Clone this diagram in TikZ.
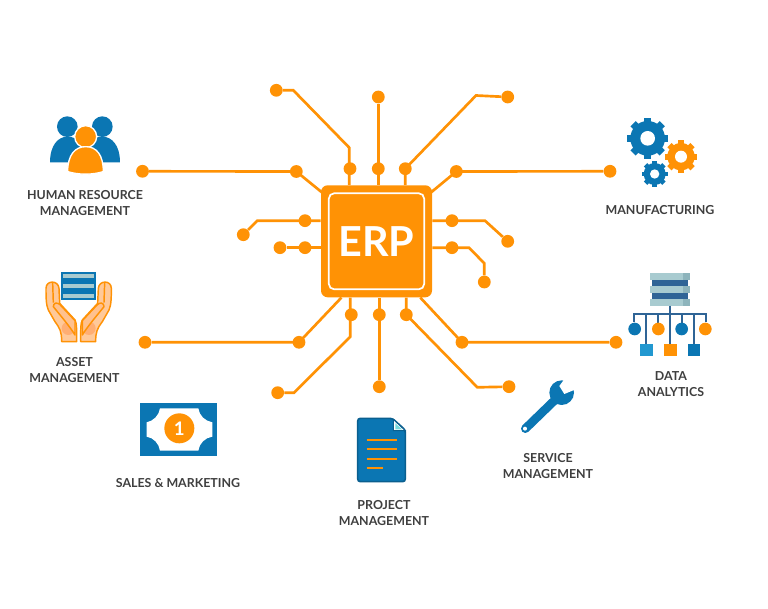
\documentclass[tikz,border=0pt]{standalone}
\usepackage{fontspec}
\setmainfont{Lato}
\usetikzlibrary{calc}
\definecolor{erporange}{HTML}{FF9205}
\definecolor{erpblue}{HTML}{0B76B3}
\definecolor{darkblue}{HTML}{0A5F8F}
\definecolor{steel}{HTML}{2F6496}
\definecolor{paleteal}{HTML}{A8CBD0}
\definecolor{midteal}{HTML}{8DB4BC}
\definecolor{handfill}{HTML}{FFC999}
\definecolor{palmfill}{HTML}{FFAE73}
\definecolor{labelgrey}{HTML}{3F3F3F}
\tikzset{
  dotnode/.style={circle,fill=erporange,inner sep=0pt,minimum size=9.6pt},
  wire/.style={draw=erporange,line width=2pt},
  lbl/.style={font=\fontsize{9.3}{12}\selectfont\bfseries,text=labelgrey,align=center,inner sep=0pt},
  stem/.style={draw=steel,line width=1.7pt}
}
\newcommand{\gearshape}[7]{% x y body reach width colour hole
  \fill[white] (#1,#2) circle[radius=#4+3];
  \foreach \a in {0,45,...,315}{\draw[#6,line width=#5] (#1,#2) -- ++(\a:#4);}
  \fill[#6] (#1,#2) circle[radius=#3];
  \fill[white] (#1,#2) circle[radius=#7];
}
\newcommand{\handshape}{%
  \filldraw[fill=handfill,draw=erporange,line width=1.1pt,line join=round]
    (78,85) .. controls (78,60) and (115,60) .. (117,85) -- (119,130)
    -- (165,180) .. controls (170,190) and (170,200) .. (170,245) -- (125,245)
    .. controls (125,215) and (120,205) .. (105,185) -- (85,150) .. controls (78,135) and (78,110) .. (78,85) -- cycle;
  \fill[palmfill] (145,205) circle[radius=20];
  \draw[erporange,line width=1.1pt] (98,68) -- (100,128);
  \filldraw[fill=handfill!70!palmfill,draw=erporange,line width=1.1pt,line join=round]
    (100,140) .. controls (100,128) and (112,126) .. (120,134) -- (165,182) -- (165,225) .. controls (150,200) and (120,165) .. (100,140) -- cycle;
}
\begin{document}
\begin{tikzpicture}[x=.75pt,y=-.75pt]
\useasboundingbox (0,0) rectangle (768,609);
\fill[white] (0,0) rectangle (768,609);

% chip
\node[fill=erporange,rounded corners=5pt,minimum width=83.25pt,minimum height=84pt,inner sep=0pt] (chip) at (376.5,241.3) {};
\node[draw=white,line width=1.3pt,rounded corners=4pt,minimum width=71.5pt,minimum height=72pt,inner sep=0pt,
  font=\fontsize{31}{31}\selectfont\bfseries,text=white] (erp) at (376.5,241.3) {ERP};

% dots
\node[dotnode] (ta) at (276.3,90.3) {};
\node[dotnode] (tam) at (350,168.7) {};
\node[dotnode] (tb) at (378.3,97) {};
\node[dotnode] (tbm) at (378.3,168.7) {};
\node[dotnode] (tc) at (507.7,97) {};
\node[dotnode] (tcm) at (405.3,168.7) {};
\node[dotnode] (hl) at (142.5,171.3) {};
\node[dotnode] (hlm) at (296.3,171.5) {};
\node[dotnode] (hr) at (610,171.3) {};
\node[dotnode] (hrm) at (456.3,171.5) {};
\node[dotnode] (la) at (243.3,234.7) {};
\node[dotnode] (lam) at (305,220.7) {};
\node[dotnode] (lb) at (280,247.7) {};
\node[dotnode] (lbm) at (305,247.7) {};
\node[dotnode] (ra) at (507.7,241.3) {};
\node[dotnode] (ram) at (452,220.7) {};
\node[dotnode] (rb) at (484.3,282) {};
\node[dotnode] (rbm) at (452,247.7) {};
\node[dotnode] (bl) at (145,342.3) {};
\node[dotnode] (blm) at (299,342.3) {};
\node[dotnode] (ba) at (277.7,392.7) {};
\node[dotnode] (bam) at (351.3,314.7) {};
\node[dotnode] (bb) at (379.3,386.7) {};
\node[dotnode] (bbm) at (379.3,314.7) {};
\node[dotnode] (bc) at (509,386.7) {};
\node[dotnode] (bcm) at (406.3,314.7) {};
\node[dotnode] (br) at (616,342.3) {};
\node[dotnode] (brm) at (462,342.3) {};

% bends
\coordinate (ta1) at (293.3,90.3);
\coordinate (ta2) at (349.3,147.7);
\coordinate (tc1) at (476,95.5);
\coordinate (la1) at (257.3,220.7);
\coordinate (ra1) at (485,220.7);
\coordinate (rb1) at (469,247.7);
\coordinate (rb2) at (484.3,263.3);
\coordinate (ba1) at (350.3,336.7);
\coordinate (ba2) at (294,392.7);
\coordinate (bc1) at (477.3,387.3);

% connectors
\draw[wire] (ta) -- (ta1) -- (ta2) -- (ta2 |- chip.north);
\draw[wire] (tb) -- (tb |- chip.north);
\draw[wire] (tc) -- (tc1) -- (tcm.center) -- (tcm.center |- chip.north);
\draw[wire] (hl) -- (hlm.center) -- ($(chip.north west)+(2,8)$);
\draw[wire] (hr) -- (hrm.center) -- ($(chip.north east)+(-2,8)$);
\draw[wire] (la) -- (la1) -- (lam.center -| chip.west);
\draw[wire] (lb) -- (lbm.center -| chip.west);
\draw[wire] (ra) -- (ra1) -- (ram.center -| chip.east);
\draw[wire] (rb) -- (rb2) -- (rb1) -- (rbm.center -| chip.east);
\draw[wire] (bl) -- (blm.center) -- ($(chip.south west)+(20.7,0)$);
\draw[wire] (ba) -- (ba2) -- (ba1) -- (ba1 |- chip.south);
\draw[wire] (bb) -- (bb |- chip.south);
\draw[wire] (bc) -- (bc1) -- (bcm.center) -- (bcm.center |- chip.south);
\draw[wire] (br) -- (brm.center) -- ($(chip.south east)+(-12,0)$);

% human resource icon
\begin{scope}[shift={(20,100)},scale=1/3]
  \fill[erpblue] (142,80) circle[radius=31];
  \fill[erpblue] (247,80) circle[radius=31];
  \fill[erpblue] (90,187) .. controls (90,135) and (115,110) .. (142,110) .. controls (175,110) and (195,135) .. (195,187) -- cycle;
  \fill[erpblue] (195,187) .. controls (195,135) and (215,110) .. (247,110) .. controls (275,110) and (300,135) .. (300,187) -- cycle;
  \filldraw[fill=erporange,draw=white,line width=1pt] (197,110) circle[radius=33];
  \filldraw[fill=erporange,draw=white,line width=1pt]
    (143,215) .. controls (143,165) and (165,140) .. (197,140) .. controls (230,140) and (250,165) .. (250,215) .. controls (215,225) and (178,225) .. (143,215) -- cycle;
\end{scope}

% asset icon
\begin{scope}[shift={(20,260)},scale=1/3]
  \handshape
  \begin{scope}[shift={(352,0)},xscale=-1]
    \handshape
  \end{scope}
  \fill[erpblue] (124,35) rectangle (228,120);
  \fill[paleteal] (130,41) rectangle (222,53);
  \fill[paleteal] (130,71) rectangle (222,84);
  \fill[paleteal] (130,102) rectangle (222,114);
\end{scope}

% sales icon
\begin{scope}[shift={(130,395)},scale=1/3]
  \fill[erpblue] (30,25) rectangle (262,183);
  \fill[white] (90,40) -- (205,40) .. controls (208,62) and (225,78) .. (247,82) -- (247,125)
    .. controls (225,128) and (208,145) .. (205,167) -- (90,167) .. controls (87,145) and (70,128) .. (50,125)
    -- (50,82) .. controls (70,78) and (87,62) .. (90,40) -- cycle;
  \node[circle,fill=erporange,minimum size=22.5pt,inner sep=0pt,text=white,font=\fontsize{14}{14}\selectfont\bfseries] (coin) at (148,100) {1};
\end{scope}

% project icon
\begin{scope}[shift={(340,410)},scale=1/3]
  \filldraw[fill=erpblue,draw=darkblue,line width=1.2pt,rounded corners=2pt]
    (53,25) -- (157,25) -- (196,60) -- (196,215) -- (53,215) -- cycle;
  \filldraw[fill=white,draw=darkblue,line width=.8pt] (160,28) -- (160,62) -- (196,62) -- cycle;
  \fill[paleteal!70!cyan] (166,40) -- (166,58) -- (186,58) -- cycle;
  \foreach \yy/\xx in {89/170,117/170,146/170,174/130}{
    \draw[erporange,line width=1.7pt] (80,\yy) -- (\xx,\yy);
  }
\end{scope}

% service icon
\begin{scope}[shift={(505,370)},scale=1/3]
  \draw[erpblue,line width=6.5pt,line cap=round] (155,85) -- (61,176);
  \fill[erpblue] (170,68) circle[radius=37];
  \fill[white] (180,25) -- (163,48) -- (178,72) -- (212,58) -- (220,25) -- cycle;
  \fill[white] (60,176) circle[radius=6];
\end{scope}

% data icon
\begin{scope}[shift={(615,265)},scale=1/3]
  \fill[steel] (112,46) rectangle (220,64);
  \fill[steel] (112,84) rectangle (220,102);
  \fill[paleteal] (106,25) rectangle (225,46);
  \fill[paleteal] (106,64) rectangle (225,84);
  \fill[paleteal] (106,102) rectangle (225,122);
  \fill[midteal] (205,25) rectangle (225,46);
  \fill[midteal] (205,64) rectangle (225,84);
  \fill[midteal] (205,102) rectangle (225,122);
  \draw[stem] (165,122) -- (165,255);
  \draw[stem] (58,170) -- (58,148) -- (272,148) -- (272,170);
  \foreach \xx in {94,236}{\draw[stem] (\xx,148) -- (\xx,255);}
  \foreach \xx in {130,200}{\draw[stem] (\xx,148) -- (\xx,180);}
  \fill[erpblue] (59,192) circle[radius=19];
  \fill[erporange] (130,192) circle[radius=19];
  \fill[erpblue] (200,192) circle[radius=19];
  \fill[erporange] (271,192) circle[radius=19];
  \fill[cyan!60!erpblue] (76,236) rectangle (113,274);
  \fill[erporange] (147,236) rectangle (185,274);
  \fill[erpblue] (218,236) rectangle (255,274);
\end{scope}

% manufacturing icon
\begin{scope}[shift={(615,105)},scale=1/3]
  \gearshape{98}{100}{52}{62}{5.5pt}{erpblue}{22}
  \gearshape{198}{155}{41}{49}{4.5pt}{erporange}{18}
  \gearshape{119}{207}{33}{39}{3.6pt}{erpblue}{14}
\end{scope}

% labels
\node[lbl] (hrlabel) at (85,203) {HUMAN RESOURCE\\MANAGEMENT};
\node[lbl] (assetlabel) at (74.5,370) {ASSET\\MANAGEMENT};
\node[lbl] (saleslabel) at (178,483) {SALES \& MARKETING};
\node[lbl] (projlabel) at (384,513) {PROJECT\\MANAGEMENT};
\node[lbl] (servlabel) at (548,466) {SERVICE\\MANAGEMENT};
\node[lbl] (datalabel) at (671,384) {DATA\\ANALYTICS};
\node[lbl] (mfglabel) at (660,210) {MANUFACTURING};
\end{tikzpicture}
\end{document}
